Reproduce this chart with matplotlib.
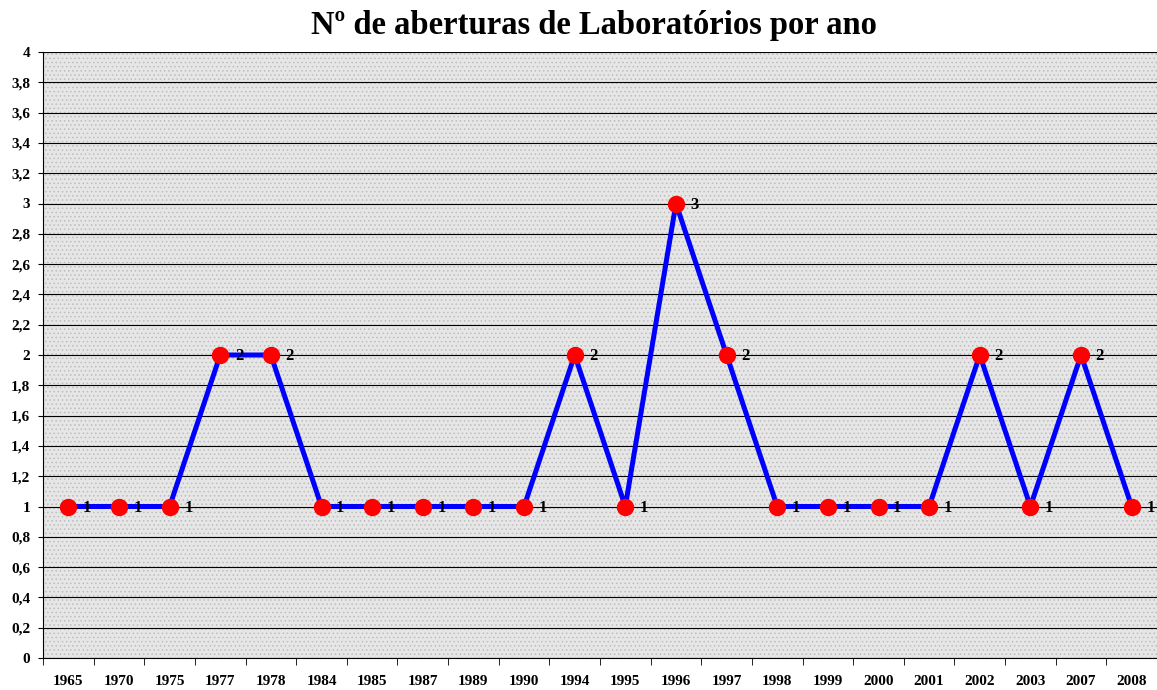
import matplotlib
matplotlib.use("Agg")
import matplotlib.pyplot as plt
import numpy as np
from matplotlib.ticker import FuncFormatter, FixedLocator

anos = ["1965", "1970", "1975", "1977", "1978", "1984", "1985", "1987", "1989", "1990",
        "1994", "1995", "1996", "1997", "1998", "1999", "2000", "2001", "2002", "2003",
        "2007", "2008"]
aberturas = [1, 1, 1, 2, 2, 1, 1, 1, 1, 1, 2, 1, 3, 2, 1, 1, 1, 1, 2, 1, 2, 1]

plt.rcParams['font.family'] = 'Liberation Serif'
plt.rcParams['font.weight'] = 'bold'
plt.rcParams['hatch.linewidth'] = 0.6

fig = plt.figure(figsize=(11.57, 6.90), dpi=100)
ax = fig.add_axes([43/1157, 1 - 658/690, 1 - 43/1157, (658 - 52)/690])

x = np.arange(len(anos))
ax.set_facecolor('#e6e6e6')
ax.patch.set_hatch('....')
ax.patch.set_edgecolor('#bdbdbd')

ax.plot(x, aberturas, color='#0000ff', lw=3.6, marker='o', markersize=11.5,
        markerfacecolor='#ff0000', markeredgecolor='#ff0000', zorder=3)
for xi, v in zip(x, aberturas):
    ax.annotate(str(v), (xi, v), xytext=(10.5, -1), textcoords='offset points',
                ha='left', va='center', fontsize=12, fontweight='bold')

ax.set_xlim(-0.5, len(anos) - 0.5)
ax.set_ylim(0, 4)
ax.set_yticks(np.arange(0, 4.01, 0.2))
ax.yaxis.set_major_formatter(FuncFormatter(
    lambda v, p: ('%g' % round(v, 1)).replace('.', ',')))
ax.grid(axis='y', color='black', lw=0.8)
ax.set_axisbelow(True)

ax.set_xticks(x)
ax.set_xticklabels(anos)
ax.tick_params(axis='x', which='major', length=0, pad=12, labelsize=11)
ax.xaxis.set_minor_locator(FixedLocator(np.arange(-0.5, len(anos), 1)))
ax.tick_params(axis='x', which='minor', length=5, direction='out', color='black')
ax.tick_params(axis='y', length=3.6, direction='out', labelsize=11, pad=5.5)
for lab in ax.get_xticklabels() + ax.get_yticklabels():
    lab.set_fontweight('bold')

for s in ['top', 'right']:
    ax.spines[s].set_visible(False)
ax.spines['left'].set_color('black')
ax.spines['bottom'].set_color('black')

fig.suptitle("Nº de aberturas de Laboratórios por ano", x=0.513, y=0.985,
             fontsize=23.5, fontweight='bold')

fig.savefig("out.png", dpi=100)
